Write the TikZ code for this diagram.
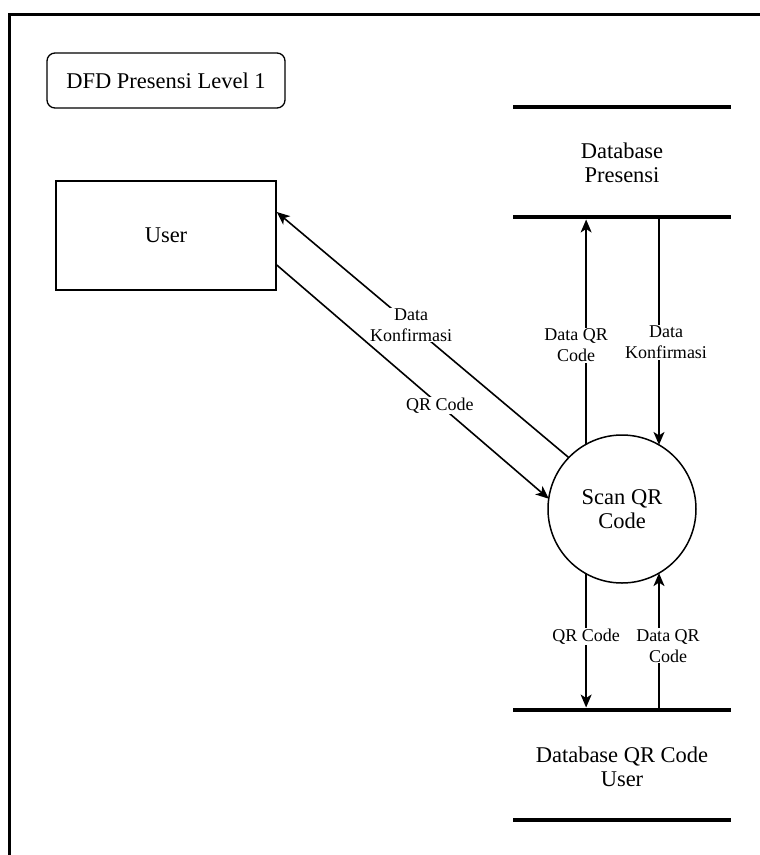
\documentclass[tikz,border=0pt]{standalone}
\usepackage{fontspec}
\setmainfont{Liberation Serif}
\usetikzlibrary{arrows.meta}
\begin{document}
\begin{tikzpicture}[x=1pt,y=-1pt,
  flow/.style={line width=1.6pt, -{Stealth[length=13pt,width=11pt,inset=3.5pt]}},
  lbl/.style={fill=white, inner sep=1pt, align=center, font=\fontsize{18}{21}\selectfont},
  txt/.style={align=center, font=\fontsize{22.5}{24.5}\selectfont},
  storeline/.style={line width=4.5pt},
  entity/.style={draw, line width=1.5pt, minimum width=220pt, minimum height=109pt, txt},
  process/.style={draw, circle, line width=1.5pt, minimum size=148pt, inner sep=0pt, outer sep=0pt, txt},
  titlebox/.style={draw, rounded corners=8pt, line width=1.3pt, minimum width=238pt, minimum height=55pt, txt},
]
\useasboundingbox (0,0) rectangle (760,855);

% outer frame
\draw[line width=3pt] (9.5,860) -- (9.5,14.5) -- (765,14.5);

% title
\node[titlebox] (title) at (166,80.5) {DFD Presensi Level 1};

% external entity and process
\node[entity] (user) at (166,235.5) {User};
\node[process] (scan) at (622,509) {Scan QR\\Code};

% data store: Database Presensi
\draw[storeline] (513,107) -- (731,107);
\draw[storeline] (513,217) -- (731,217);
\node[txt] (dbp) at (622,163) {Database\\Presensi};
\coordinate (dbpIn) at (622,219.5);
\coordinate (dbpOut) at (622,217);

% data store: Database QR Code User
\draw[storeline] (513,710) -- (731,710);
\draw[storeline] (513,820) -- (731,820);
\node[txt] (dbq) at (622,767) {Database QR Code\\User};
\coordinate (dbqIn) at (622,707.5);
\coordinate (dbqOut) at (622,710);

% flows between user and process
\draw[flow] (scan.136) -- node[lbl, pos=0.54] {Data\\Konfirmasi} ([yshift=23.5pt]user.east);
\draw[flow] ([yshift=-29.5pt]user.east) -- node[lbl, pos=0.6] {QR Code} (scan.172);

% flows between process and Database Presensi
\draw[flow] (scan.119) -- node[lbl, pos=0.44, xshift=-10pt] {Data QR\\Code} (scan.119 |- dbpIn);
\draw[flow] (scan.60 |- dbpOut) -- node[lbl, pos=0.55, xshift=7pt] {Data\\Konfirmasi} (scan.60);

% flows between process and Database QR Code User
\draw[flow] (scan.241) -- node[lbl, pos=0.47] {QR Code} (scan.241 |- dbqIn);
\draw[flow] (scan.300 |- dbqOut) -- node[lbl, pos=0.47, xshift=9pt] {Data QR\\Code} (scan.300);
\end{tikzpicture}
\end{document}
